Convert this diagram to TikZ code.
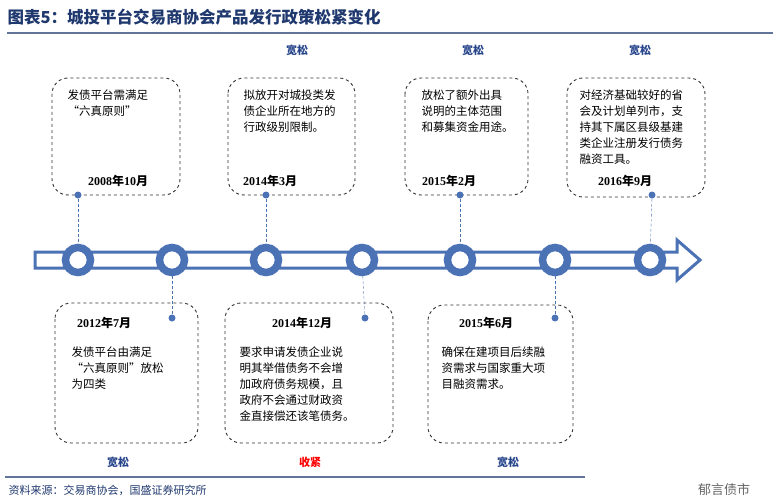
\documentclass[tikz,border=0pt]{standalone}
\usepackage{fontspec}
\setmainfont{Liberation Serif}
\newfontfamily\cjk{Noto Sans CJK SC}
\usetikzlibrary{positioning}
\definecolor{navy}{RGB}{31,56,110}
\definecolor{tlblue}{RGB}{74,114,180}
\definecolor{tagblue}{RGB}{40,70,140}

\begin{document}
\begin{tikzpicture}[
            x = 1pt, y = -1pt, % pixel grid of the reference
            font = \cjk\fontsize{11.5}{16}\selectfont
        ]

        \tikzstyle{event}=[
            draw = black!80,
            dashed,
            line width = 0.9pt,
            rounded corners = 16pt,
            inner sep = 0pt
        ]
        \tikzstyle{stop}=[circle, draw = tlblue, line width = 7.5pt, fill = white, minimum size = 25pt, inner sep = 0pt]
        \tikzstyle{pin}=[circle, fill = tlblue, minimum size = 7pt, inner sep = 0pt]
        \tikzstyle{date}=[font = \fontsize{12}{14}\selectfont\bfseries]
        \tikzstyle{tag}=[text = tagblue, font = \cjk\fontsize{11}{13}\selectfont\bfseries]
        \tikzstyle{body}=[align = left, anchor = north west]

        \useasboundingbox (0,0) rectangle (773,500);

        % title
        \node[anchor = west, text = navy, font = \cjk\fontsize{16.5}{18}\selectfont\bfseries\itshape] (title) at (4,17) {图表5：城投平台交易商协会产品发行政策松紧变化};
        \draw[navy!70, line width = 1.4pt] (7,33) -- (773,33);

        % timeline
        \draw[tlblue, line width = 3pt, fill = white] (35,252) -- (677,252) -- (677,240) -- (700,260) -- (677,280) -- (677,268) -- (35,268) -- cycle;
        \foreach \n/\x in {a/78, b/172, c/266, d/362, e/460, f/555, g/650}
            \node[stop] (\n) at (\x,260) {};

        % upper events
        \draw[event] (52,78) rectangle (180,195);
        \draw[event] (228,78) rectangle (355,195);
        \draw[event] (405,78) rectangle (528,195);
        \draw[event] (567,78) rectangle (705,197);
        \node[body] (ta) at (64,86) {发债平台需满足\\“六真原则”};
        \node[body] (tc) at (240,86) {拟放开对城投类发\\债企业所在地方的\\行政级别限制。};
        \node[body] (te) at (418,86) {放松了额外出具\\说明的主体范围\\和募集资金用途。};
        \node[body] (tg) at (576,86) {对经济基础较好的省\\会及计划单列市，支\\持其下属区县级基建\\类企业注册发行债务\\融资工具。};
        \node[date] (da) at (118,181) {2008{\cjk 年}10{\cjk 月}};
        \node[date] (dc) at (270,181) {2014{\cjk 年}3{\cjk 月}};
        \node[date] (de) at (449,181) {2015{\cjk 年}2{\cjk 月}};
        \node[date] (dg) at (625,181) {2016{\cjk 年}9{\cjk 月}};
        \node[pin] (pa) at (78,195) {};
        \node[pin] (pc) at (266,195) {};
        \node[pin] (pe) at (460,195) {};
        \node[pin] (pg) at (652,195) {};
        \node[tag] (kc) at (297,50) {宽松};
        \node[tag] (ke) at (473,50) {宽松};
        \node[tag] (kg) at (640,50) {宽松};

        % lower events
        \draw[event] (55,303) rectangle (198,443);
        \draw[event] (225,303) rectangle (393,443);
        \draw[event] (428,305) rectangle (573,443);
        \node[date] (db) at (104,323) {2012{\cjk 年}7{\cjk 月}};
        \node[date] (dd) at (302,323) {2014{\cjk 年}12{\cjk 月}};
        \node[date] (df) at (486,323) {2015{\cjk 年}6{\cjk 月}};
        \node[body] (tb) at (68,343) {发债平台由满足\\“六真原则”放松\\为四类};
        \node[body] (td) at (236,343) {要求申请发债企业说\\明其举借债务不会增\\加政府债务规模，且\\政府不会通过财政资\\金直接偿还该笔债务。};
        \node[body] (tf) at (438,343) {确保在建项目后续融\\资需求与国家重大项\\目融资需求。};
        \node[pin] (pb) at (172,318) {};
        \node[pin] (pd) at (365,318) {};
        \node[pin] (pf) at (555,318) {};
        \node[tag] (kb) at (118,462) {宽松};
        \node[tag, text = red] (kd) at (310,462) {收紧};
        \node[tag] (kf) at (508,462) {宽松};

        % leaders
        \foreach \p/\s in {pa/a, pc/c, pe/e, pg/g, pb/b, pd/d, pf/f}
            \draw[tlblue, densely dashed, thin] (\p) -- (\s);

        % source
        \draw[navy!70, line width = 1.2pt] (5,477) -- (585,477);
        \node[anchor = west, text = navy, font = \cjk\fontsize{11}{12}\selectfont\itshape] (src) at (5,490) {资料来源：交易商协会，国盛证券研究所};
        \node[text = black!60, font = \cjk\fontsize{13}{14}\selectfont] (wm) at (724,490) {郁言债市};
\end{tikzpicture}
\end{document}
